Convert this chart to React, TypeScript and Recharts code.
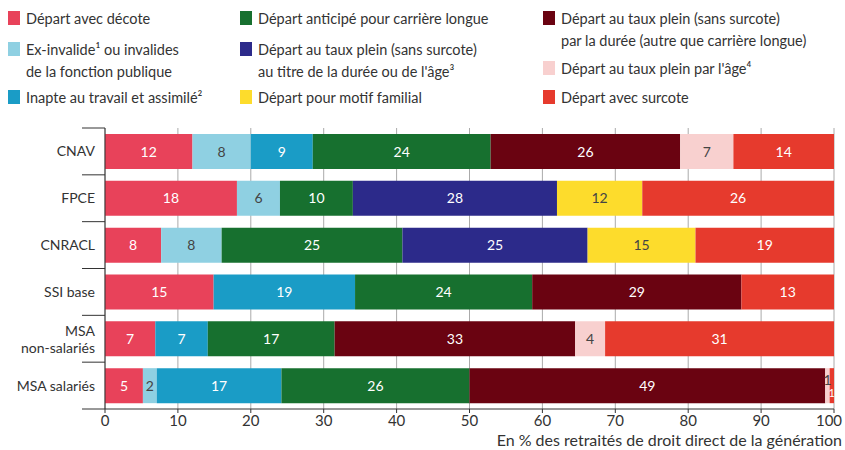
import { BarChart, Bar, XAxis, YAxis, CartesianGrid, LabelList } from 'recharts';

const categories = ['CNAV', 'FPCE', 'CNRACL', 'SSI base', 'MSA\nnon-salariés', 'MSA salariés'];

const decote = [12, 18.1, 7.7, 14.9, 6.9, 5.2];
const exInvalide = [8, 5.9, 8.3, null, null, 1.9];
const inapte = [8.5, null, null, 19.4, 7.2, 17.1];
const carriereLongue = [24.4, 10, 24.8, 24.3, 17.4, 25.8];
const tauxPleinTitre = [null, 28, 25.4, null, null, null];
const motifFamilial = [null, 11.7, 14.8, null, null, null];
const tauxPleinDuree = [26, null, null, 28.7, 33, 48.8];
const tauxPleinAge = [7.3, null, null, null, 4.1, 0.6];
const surcote = [13.8, 26.3, 19, 12.7, 31.4, 0.6];

const xTicks = [0, 10, 20, 30, 40, 50, 60, 70, 80, 90, 100];

const SERIES = [
    { key: 'decote', values: decote, color: '#e8425a', dark: false },
    { key: 'exInvalide', values: exInvalide, color: '#8fd0e2', dark: true },
    { key: 'inapte', values: inapte, color: '#1a9cc6', dark: false },
    { key: 'carriereLongue', values: carriereLongue, color: '#17702f', dark: false },
    { key: 'tauxPleinTitre', values: tauxPleinTitre, color: '#2c2a8a', dark: false },
    { key: 'motifFamilial', values: motifFamilial, color: '#fddc2c', dark: true },
    { key: 'tauxPleinDuree', values: tauxPleinDuree, color: '#6a0311', dark: false },
    { key: 'tauxPleinAge', values: tauxPleinAge, color: '#f8d0cf', dark: true },
    { key: 'surcote', values: surcote, color: '#e63a2d', dark: false },
];

const data = categories.map((name, i) => {
    const row: Record<string, string | number | null> = { name };
    SERIES.forEach((s) => {
        row[s.key] = s.values[i];
    });
    return row;
});

const FONT = 'Lato, "Open Sans", sans-serif';
const TOP = 128;
const BOTTOM_AXIS = 409;
const BAND = (BOTTOM_AXIS - TOP) / categories.length;

function YTick(props: any) {
    const { x, y, payload, index } = props;
    const lines = String(payload.value).split('\n');
    return (
        <g>
            <line x1={82} x2={x + 8} y1={y - BAND / 2} y2={y - BAND / 2} stroke="#333" />
            {index === categories.length - 1 && (
                <line x1={82} x2={x + 8} y1={y + BAND / 2} y2={y + BAND / 2} stroke="#333" />
            )}
            <text x={x - 2} y={y} textAnchor="end" fill="#333" fontSize={14} fontFamily={FONT}>
                {lines.map((l, i) => (
                    <tspan key={i} x={x - 2} dy={i === 0 ? (lines.length === 1 ? 5 : -3) : 17}>
                        {l}
                    </tspan>
                ))}
            </text>
        </g>
    );
}

function XTick(props: any) {
    const { x, y, payload } = props;
    const shift = payload.value === 100 ? -5 : 0;
    return (
        <text x={x + shift} y={y + 11} textAnchor="middle" fill="#333" fontSize={15} fontFamily={FONT}>
            {payload.value}
        </text>
    );
}

function makeLabel(dark: boolean) {
    return function SegLabel(props: any) {
        const { x, y, width, height, value } = props;
        if (value == null) return null;
        const small = width < 10;
        const cx = x + width / 2;
        let cy = y + height / 2 + 5;
        if (small) cy += dark ? -6 : 6;
        return (
            <text
                x={cx}
                y={cy}
                textAnchor="middle"
                fill={dark ? '#444' : '#fff'}
                fontSize={small ? (dark ? 14 : 11) : 14}
                fontFamily={FONT}
            >
                {Math.round(value)}
            </text>
        );
    };
}

const legendItems = [
    { color: '#e8425a', lines: ['Départ avec décote'], left: 8, top: 8 },
    { color: '#8fd0e2', lines: ['Ex-invalide¹ ou invalides', 'de la fonction publique'], left: 8, top: 39 },
    { color: '#1a9cc6', lines: ['Inapte au travail et assimilé²'], left: 8, top: 87 },
    { color: '#17702f', lines: ['Départ anticipé pour carrière longue'], left: 240, top: 8 },
    { color: '#2c2a8a', lines: ['Départ au taux plein (sans surcote)', "au titre de la durée ou de l'âge³"], left: 240, top: 39 },
    { color: '#fddc2c', lines: ['Départ pour motif familial'], left: 240, top: 87 },
    { color: '#6a0311', lines: ['Départ au taux plein (sans surcote)', 'par la durée (autre que carrière longue)'], left: 543, top: 8 },
    { color: '#f8d0cf', lines: ["Départ au taux plein par l'âge⁴"], left: 543, top: 58 },
    { color: '#e63a2d', lines: ['Départ avec surcote'], left: 543, top: 87 },
];

export default function App() {
    return (
        <div
            style={{
                position: 'absolute',
                left: 0,
                top: 0,
                width: 845,
                height: 450,
                background: '#fff',
                fontFamily: FONT,
                color: '#333',
            }}
        >
            {legendItems.map((item) => (
                <div
                    key={item.lines[0] + item.left}
                    style={{ position: 'absolute', left: item.left, top: item.top, display: 'flex' }}
                >
                    <span
                        style={{
                            width: 12,
                            height: 14,
                            marginTop: 3,
                            marginRight: 6,
                            background: item.color,
                            flexShrink: 0,
                        }}
                    />
                    <div style={{ fontSize: 14.5, lineHeight: '22px' }}>
                        {item.lines.map((l) => (
                            <div key={l} style={{ whiteSpace: 'nowrap' }}>
                                {l}
                            </div>
                        ))}
                    </div>
                </div>
            ))}
            <BarChart
                width={845}
                height={450}
                data={data}
                layout="vertical"
                margin={{ top: TOP, right: 11, bottom: 0, left: 0 }}
                barSize={35}
            >
                <CartesianGrid horizontal={false} stroke="#aaa" />
                <XAxis
                    type="number"
                    domain={[0, 100]}
                    ticks={xTicks}
                    height={41}
                    axisLine={{ stroke: '#333' }}
                    tickLine={{ stroke: '#333' }}
                    tickSize={4}
                    tick={<XTick />}
                    interval={0}
                />
                <YAxis
                    type="category"
                    dataKey="name"
                    width={105}
                    axisLine={{ stroke: '#333' }}
                    tickLine={false}
                    tick={<YTick />}
                    interval={0}
                />
                {SERIES.map((s) => (
                    <Bar key={s.key} dataKey={s.key} stackId="a" fill={s.color} isAnimationActive={false}>
                        <LabelList dataKey={s.key} content={makeLabel(s.dark)} />
                    </Bar>
                ))}
            </BarChart>
            <div
                style={{
                    position: 'absolute',
                    right: 3,
                    top: 432,
                    fontSize: 16,
                    lineHeight: '16px',
                    whiteSpace: 'nowrap',
                }}
            >
                En % des retraités de droit direct de la génération
            </div>
        </div>
    );
}
